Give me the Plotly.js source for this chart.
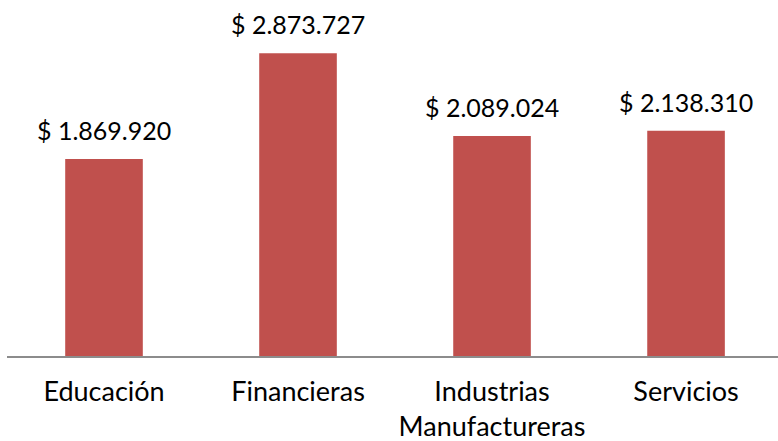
<!DOCTYPE html>
<html>
<head>
<meta charset="utf-8">
<script src="https://cdn.plot.ly/plotly-3.0.1.min.js"></script>
<style>html,body{margin:0;padding:0;background:#fff;}#chart{width:778px;height:441px;}</style>
</head>
<body>
<div id="chart"></div>
<script>
var categories = ["Educación", "Financieras", "Industrias<br>Manufactureras", "Servicios"];
var values = [1869920, 2873727, 2089024, 2138310];

var FONT = "Lato, 'Open Sans', sans-serif";

function fmt(v) {
  return "$ " + String(v).replace(/\B(?=(\d{3})+(?!\d))/g, ".");
}

var trace = {
  type: "bar",
  x: categories,
  y: values,
  width: 0.4,
  marker: {color: "#C0504D"},
  hoverinfo: "none"
};

var annotations = categories.map(function (c, i) {
  return {
    x: c, y: values[i], xref: "x", yref: "y",
    text: fmt(values[i]),
    showarrow: false, yanchor: "bottom", yshift: 12,
    font: {family: FONT, size: 25, color: "#000"}
  };
});

var layout = {
  width: 778, height: 441,
  margin: {l: 7, r: 0, t: 0, b: 85},
  paper_bgcolor: "#fff", plot_bgcolor: "#fff",
  showlegend: false,
  xaxis: {
    range: [-0.5, 3.474],
    showline: true, linecolor: "#8c8c8c", linewidth: 1.5,
    ticks: "", showgrid: false, zeroline: false,
    tickfont: {family: FONT, size: 27, color: "#000"},
    ticklabelstandoff: 11,
    fixedrange: true
  },
  yaxis: {
    range: [0, 3379000],
    visible: false, showgrid: false, zeroline: false,
    fixedrange: true
  },
  annotations: annotations
};

Plotly.newPlot("chart", [trace], layout, {displayModeBar: false, staticPlot: true});
</script>
</body>
</html>
